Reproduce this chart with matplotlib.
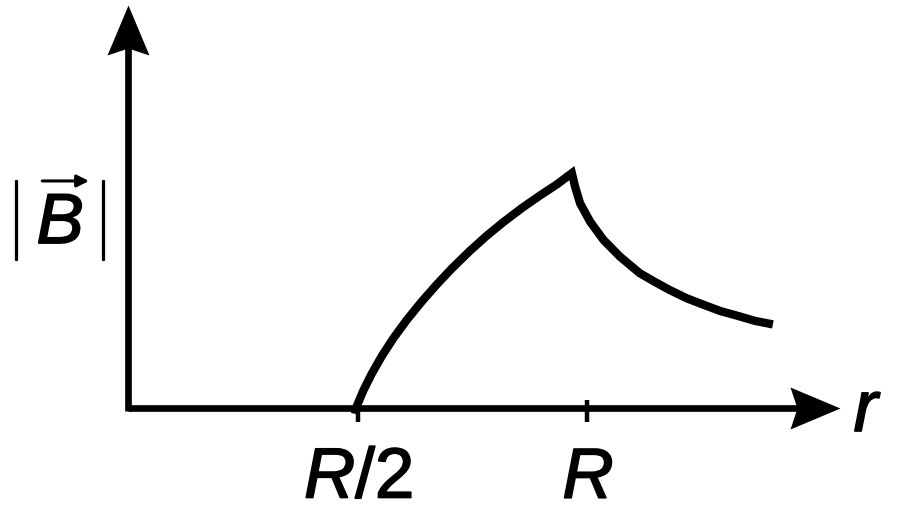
import numpy as np
import matplotlib
matplotlib.use("Agg")
import matplotlib.pyplot as plt
import matplotlib.patheffects as pe
from matplotlib.path import Path
from matplotlib.transforms import Affine2D

plt.rcParams['font.family'] = ['Liberation Sans', 'DejaVu Sans']
plt.rcParams['mathtext.fontset'] = 'custom'
plt.rcParams['mathtext.rm'] = 'Liberation Sans'
plt.rcParams['mathtext.it'] = 'Liberation Sans:italic'

# Curve (x in units of R, y in arbitrary units, peak ~ 1)
rise_x = [0.4946, 0.498, 0.513, 0.531, 0.553, 0.578, 0.607, 0.640, 0.673, 0.705,
          0.745, 0.781, 0.818, 0.858, 0.898, 0.934, 0.967]
rise_y = [-0.025, 0.006, 0.075, 0.145, 0.220, 0.295, 0.372, 0.451, 0.524, 0.590,
          0.666, 0.729, 0.788, 0.847, 0.901, 0.947, 0.995]
fall_x = [0.974, 0.985, 1.007, 1.036, 1.072, 1.115, 1.148, 1.181, 1.217, 1.253,
          1.290, 1.327, 1.366, 1.405]
fall_y = [0.938, 0.867, 0.789, 0.712, 0.641, 0.571, 0.534, 0.499, 0.465, 0.438,
          0.411, 0.391, 0.369, 0.354]

tick_pos = [0.5, 1.0]
tick_labels = ['$R/2$', '$R$']
x_axis_end = 1.551
y_axis_end = 1.708

fig = plt.figure(figsize=(9, 5.2), dpi=100)
ax = fig.add_axes([0, 0, 1, 1])
ax.set_xlim(-0.279, 1.682)
ax.set_ylim(-0.475, 1.729)
ax.axis('off')

def head(angle):
    p = Path([(0, 0), (-1, 0.42), (-0.86, 0), (-1, -0.42), (0, 0)],
             [Path.MOVETO, Path.LINETO, Path.LINETO, Path.LINETO, Path.CLOSEPOLY])
    return p.transformed(Affine2D().rotate_deg(angle))

bold = [pe.withStroke(linewidth=1.2, foreground='black')]

lw_axis = 4.8
ax.plot([0, x_axis_end - 0.09], [0, 0], color='black', lw=lw_axis, solid_capstyle='butt')
ax.plot([0, 0], [-0.013, y_axis_end - 0.18], color='black', lw=lw_axis, solid_capstyle='butt')
ax.plot([x_axis_end], [0], marker=head(0), markersize=72, color='black', markeredgewidth=0)
ax.plot([0], [y_axis_end], marker=head(90), markersize=72, color='black', markeredgewidth=0)

# ticks
ax.vlines(tick_pos, -0.059, 0.034, color='black', lw=3.2)
for xp, lab in zip(tick_pos, tick_labels):
    ax.text(xp + 0.002, -0.305, lab, ha='center', va='center', fontsize=51,
            path_effects=bold)

ax.text(1.612, -0.02, '$r$', ha='center', va='center', fontsize=52, path_effects=bold)

# |B| label
ax.text(-0.148, 0.775, 'B', ha='center', va='center', fontsize=51, style='italic',
        path_effects=bold)
for bx in (-0.243, -0.053):
    ax.text(bx, 0.795, '|', ha='center', va='center', fontsize=61,
            family=['Lato', 'Liberation Sans'], fontweight='light',
            path_effects=[pe.withStroke(linewidth=1.6, foreground='black')])
ax.annotate('', xy=(-0.085, 0.962), xytext=(-0.187, 0.962),
            arrowprops=dict(arrowstyle='-|>', color='black', lw=2.2,
                            mutation_scale=18, shrinkA=0, shrinkB=0))

ax.plot(rise_x + fall_x, rise_y + fall_y, color='black', lw=6,
        solid_joinstyle='miter', solid_capstyle='butt')

fig.savefig('out.png', dpi=100)
